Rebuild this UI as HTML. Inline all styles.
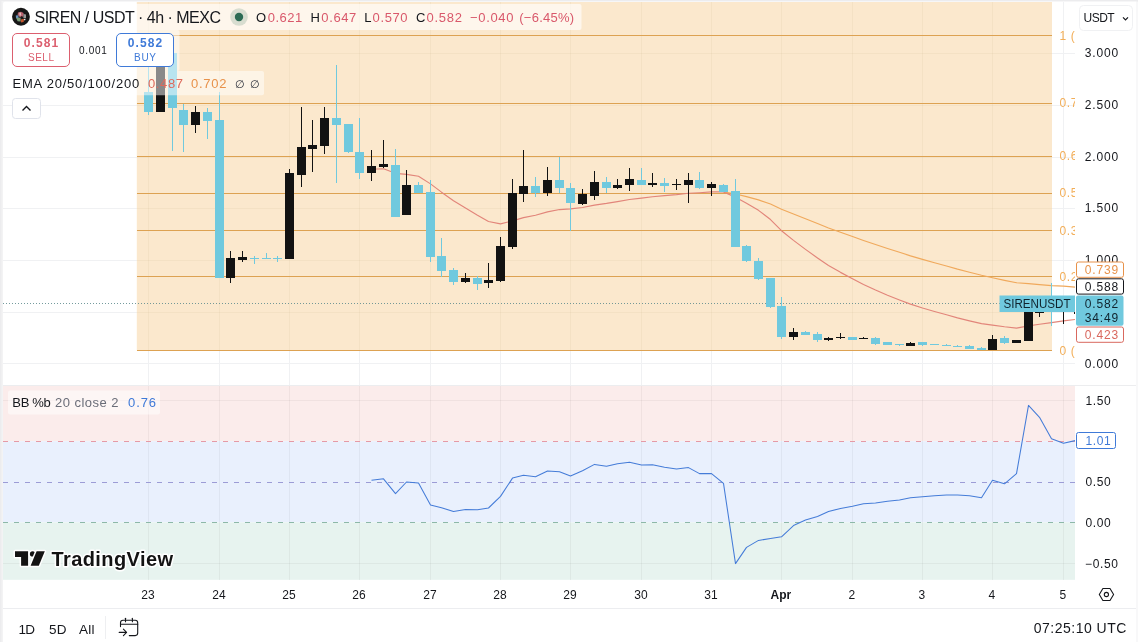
<!DOCTYPE html>
<html lang="en"><head><meta charset="utf-8"><title>SIREN / USDT · 4h · MEXC</title>
<style>html,body{margin:0;padding:0;background:#fff;}body{width:1138px;height:642px;overflow:hidden;}svg{display:block;}text{font-family:"Liberation Sans", sans-serif;}</style>
</head><body>
<svg width="1138" height="642" viewBox="0 0 1138 642">
<defs><clipPath id="mainclip"><rect x="3" y="2" width="1072" height="381"/></clipPath><filter id="blur" x="-20%" y="-20%" width="140%" height="140%"><feGaussianBlur stdDeviation="0.75"/></filter><clipPath id="subclip"><rect x="3" y="385" width="1072" height="195"/></clipPath></defs>
<rect x="0" y="0" width="1138" height="642" fill="#ECECEE"/>
<rect x="1.5" y="1" width="1136" height="641" fill="#F3F3F4"/>
<path d="M3 3.7 Q3 1.7 5 1.7 H1136 V642 H3 Z" fill="#fff"/>
<rect x="1136" y="2" width="2" height="640" fill="#F8F8F9"/>
<rect x="3" y="385" width="1072" height="56.2" fill="#FBECEB"/>
<rect x="3" y="441.2" width="1072" height="81.2" fill="#E9F0FD"/>
<rect x="3" y="522.4" width="1072" height="57.4" fill="#E7F3EF"/>
<g stroke="#F0F1F3" stroke-width="1" shape-rendering="crispEdges">
<line x1="180" y1="53.5" x2="1075" y2="53.5"/>
<line x1="3" y1="105.5" x2="1075" y2="105.5"/>
<line x1="3" y1="157.5" x2="1075" y2="157.5"/>
<line x1="3" y1="208.5" x2="1075" y2="208.5"/>
<line x1="3" y1="260.5" x2="1075" y2="260.5"/>
<line x1="3" y1="312.5" x2="1075" y2="312.5"/>
<line x1="3" y1="363.5" x2="1075" y2="363.5"/>
<line x1="148.5" y1="2" x2="148.5" y2="385"/>
<line x1="219.5" y1="2" x2="219.5" y2="385"/>
<line x1="289.5" y1="2" x2="289.5" y2="385"/>
<line x1="359.5" y1="2" x2="359.5" y2="385"/>
<line x1="430.5" y1="2" x2="430.5" y2="385"/>
<line x1="500.5" y1="2" x2="500.5" y2="385"/>
<line x1="570.5" y1="2" x2="570.5" y2="385"/>
<line x1="641.5" y1="2" x2="641.5" y2="385"/>
<line x1="711.5" y1="2" x2="711.5" y2="385"/>
<line x1="781.5" y1="2" x2="781.5" y2="385"/>
<line x1="852.5" y1="2" x2="852.5" y2="385"/>
<line x1="922.5" y1="2" x2="922.5" y2="385"/>
<line x1="992.5" y1="2" x2="992.5" y2="385"/>
<line x1="1063.5" y1="2" x2="1063.5" y2="385"/>
</g>
<g stroke="#000" stroke-opacity="0.045" stroke-width="1" shape-rendering="crispEdges">
<line x1="148.5" y1="385" x2="148.5" y2="580"/>
<line x1="219.5" y1="385" x2="219.5" y2="580"/>
<line x1="289.5" y1="385" x2="289.5" y2="580"/>
<line x1="359.5" y1="385" x2="359.5" y2="580"/>
<line x1="430.5" y1="385" x2="430.5" y2="580"/>
<line x1="500.5" y1="385" x2="500.5" y2="580"/>
<line x1="570.5" y1="385" x2="570.5" y2="580"/>
<line x1="641.5" y1="385" x2="641.5" y2="580"/>
<line x1="711.5" y1="385" x2="711.5" y2="580"/>
<line x1="781.5" y1="385" x2="781.5" y2="580"/>
<line x1="852.5" y1="385" x2="852.5" y2="580"/>
<line x1="922.5" y1="385" x2="922.5" y2="580"/>
<line x1="992.5" y1="385" x2="992.5" y2="580"/>
<line x1="1063.5" y1="385" x2="1063.5" y2="580"/>
<line x1="3" y1="400.5" x2="1075" y2="400.5"/>
<line x1="3" y1="563.5" x2="1075" y2="563.5"/>
</g>
<g clip-path="url(#mainclip)">
<rect x="136.8" y="2" width="915.2" height="348.5" fill="#FBE8CD"/>
<g stroke="#C9B08C" stroke-opacity="0.13" stroke-width="1" shape-rendering="crispEdges">
<line x1="136.5" y1="53.5" x2="1052" y2="53.5"/>
<line x1="136.5" y1="105.5" x2="1052" y2="105.5"/>
<line x1="136.5" y1="157.5" x2="1052" y2="157.5"/>
<line x1="136.5" y1="208.5" x2="1052" y2="208.5"/>
<line x1="136.5" y1="260.5" x2="1052" y2="260.5"/>
<line x1="136.5" y1="312.5" x2="1052" y2="312.5"/>
<line x1="148.5" y1="2" x2="148.5" y2="350"/>
<line x1="219.5" y1="2" x2="219.5" y2="350"/>
<line x1="289.5" y1="2" x2="289.5" y2="350"/>
<line x1="359.5" y1="2" x2="359.5" y2="350"/>
<line x1="430.5" y1="2" x2="430.5" y2="350"/>
<line x1="500.5" y1="2" x2="500.5" y2="350"/>
<line x1="570.5" y1="2" x2="570.5" y2="350"/>
<line x1="641.5" y1="2" x2="641.5" y2="350"/>
<line x1="711.5" y1="2" x2="711.5" y2="350"/>
<line x1="781.5" y1="2" x2="781.5" y2="350"/>
<line x1="852.5" y1="2" x2="852.5" y2="350"/>
<line x1="922.5" y1="2" x2="922.5" y2="350"/>
<line x1="992.5" y1="2" x2="992.5" y2="350"/>
</g>
<g stroke="#DDA252" stroke-width="1" shape-rendering="crispEdges">
<line x1="136.5" y1="35.5" x2="1052" y2="35.5"/>
<line x1="136.5" y1="103.5" x2="1052" y2="103.5"/>
<line x1="136.5" y1="156.5" x2="1052" y2="156.5"/>
<line x1="136.5" y1="193.5" x2="1052" y2="193.5"/>
<line x1="136.5" y1="230.5" x2="1052" y2="230.5"/>
<line x1="136.5" y1="276.5" x2="1052" y2="276.5"/>
<line x1="136.5" y1="350.5" x2="1052" y2="350.5"/>
</g>
<g fill="#F2AE58" font-size="12" letter-spacing="0.6">
<text x="1059.6" y="39.6">1 (3.042)</text>
<text x="1059.6" y="107.2">0.786 (2.391)</text>
<text x="1059.6" y="160.20000000000002">0.618 (1.880)</text>
<text x="1059.6" y="197.4">0.5 (1.521)</text>
<text x="1059.6" y="234.6">0.382 (1.162)</text>
<text x="1059.6" y="280.59999999999997">0.236 (0.718)</text>
<text x="1059.6" y="354.9">0 (0.000)</text>
</g>
<line x1="3" y1="303.5" x2="1075" y2="303.5" stroke="#5C8A8C" stroke-opacity="0.85" stroke-width="1" stroke-dasharray="1 2" shape-rendering="crispEdges"/>
<rect x="1074" y="312" width="1" height="2" fill="#121212"/>
<polyline fill="none" stroke="#F0A95C" stroke-width="1.15" stroke-linejoin="round" points="723.5,191.9 735.5,194.05 746.5,196.66 758.5,199.87 770.5,204.07 781.5,209.27 793.5,214.09 805.5,218.82 817.5,223.56 828.5,228.05 840.5,232.31 852.5,236.52 863.5,240.5 875.5,244.56 887.5,248.5 899.5,252.28 910.5,255.83 922.5,259.33 934.5,262.69 946.5,265.96 957.5,269.13 969.5,272.26 981.5,275.3 992.5,277.8 1004.5,280.37 1016.5,282.72 1028.5,283.59 1039.5,284.63 1051.5,285.62 1063.5,286.18 1075.5,287.1"/>
<polyline fill="none" stroke="#E2857A" stroke-width="1.15" stroke-linejoin="round" points="371.5,169.28 383.5,168.78 395.5,173.33 406.5,174.44 418.5,176.2 430.5,183.88 441.5,192.16 453.5,200.71 465.5,208.07 477.5,215.29 488.5,221.47 500.5,223.83 512.5,220.91 523.5,217.61 535.5,215.25 547.5,211.88 559.5,209.56 570.5,208.89 582.5,207.5 594.5,205.08 606.5,203.44 617.5,201.68 629.5,199.55 641.5,198.16 652.5,196.71 664.5,195.67 676.5,194.6 688.5,193.23 699.5,192.72 711.5,191.9 723.5,191.91 735.5,197.13 746.5,203.17 758.5,210.36 770.5,219.56 781.5,230.71 793.5,240.37 805.5,249.36 817.5,257.96 828.5,265.59 840.5,272.37 852.5,278.78 863.5,284.41 875.5,290.08 887.5,295.31 899.5,300.05 910.5,304.12 922.5,308.01 934.5,311.53 946.5,314.82 957.5,317.88 969.5,320.83 981.5,323.6 992.5,325.07 1004.5,326.8 1016.5,328.07 1028.5,325.9 1039.5,324.3 1051.5,322.6 1063.5,320.9 1075.5,319.4"/>
<g shape-rendering="crispEdges">
<line x1="148.5" y1="60" x2="148.5" y2="115" stroke="#70C9DE" stroke-width="1"/>
<rect x="144.0" y="92" width="9" height="20" fill="#70C9DE"/>
<line x1="160.5" y1="40" x2="160.5" y2="112" stroke="#121212" stroke-width="1"/>
<rect x="156.0" y="40" width="9" height="72" fill="#121212"/>
<line x1="172.5" y1="36" x2="172.5" y2="151" stroke="#70C9DE" stroke-width="1"/>
<rect x="168.0" y="53" width="9" height="55" fill="#70C9DE"/>
<line x1="183.5" y1="104" x2="183.5" y2="152" stroke="#70C9DE" stroke-width="1"/>
<rect x="179.0" y="110" width="9" height="15" fill="#70C9DE"/>
<line x1="195.5" y1="106" x2="195.5" y2="133" stroke="#121212" stroke-width="1"/>
<rect x="191.0" y="112" width="9" height="13" fill="#121212"/>
<line x1="207.5" y1="108" x2="207.5" y2="139" stroke="#70C9DE" stroke-width="1"/>
<rect x="203.0" y="112" width="9" height="9" fill="#70C9DE"/>
<line x1="219.5" y1="92" x2="219.5" y2="278" stroke="#70C9DE" stroke-width="1"/>
<rect x="215.0" y="120" width="9" height="158" fill="#70C9DE"/>
<line x1="230.5" y1="251" x2="230.5" y2="283" stroke="#121212" stroke-width="1"/>
<rect x="226.0" y="258" width="9" height="20" fill="#121212"/>
<line x1="242.5" y1="251" x2="242.5" y2="262" stroke="#121212" stroke-width="1"/>
<rect x="238.0" y="257" width="9" height="3" fill="#121212"/>
<line x1="254.5" y1="256" x2="254.5" y2="264" stroke="#70C9DE" stroke-width="1"/>
<rect x="250.0" y="258" width="9" height="1" fill="#70C9DE"/>
<line x1="266.5" y1="253" x2="266.5" y2="259" stroke="#70C9DE" stroke-width="1"/>
<rect x="262.0" y="258" width="9" height="1" fill="#70C9DE"/>
<line x1="277.5" y1="256" x2="277.5" y2="262" stroke="#70C9DE" stroke-width="1"/>
<rect x="273.0" y="258" width="9" height="1" fill="#70C9DE"/>
<line x1="289.5" y1="169" x2="289.5" y2="259" stroke="#121212" stroke-width="1"/>
<rect x="285.0" y="173" width="9" height="86" fill="#121212"/>
<line x1="301.5" y1="107" x2="301.5" y2="187" stroke="#121212" stroke-width="1"/>
<rect x="297.0" y="147" width="9" height="28" fill="#121212"/>
<line x1="312.5" y1="120" x2="312.5" y2="172" stroke="#121212" stroke-width="1"/>
<rect x="308.0" y="145" width="9" height="4" fill="#121212"/>
<line x1="324.5" y1="107" x2="324.5" y2="154" stroke="#121212" stroke-width="1"/>
<rect x="320.0" y="118" width="9" height="28" fill="#121212"/>
<line x1="336.5" y1="65" x2="336.5" y2="183" stroke="#70C9DE" stroke-width="1"/>
<rect x="332.0" y="118" width="9" height="7" fill="#70C9DE"/>
<line x1="348.5" y1="124" x2="348.5" y2="153" stroke="#70C9DE" stroke-width="1"/>
<rect x="344.0" y="124" width="9" height="28" fill="#70C9DE"/>
<line x1="359.5" y1="118" x2="359.5" y2="179" stroke="#70C9DE" stroke-width="1"/>
<rect x="355.0" y="152" width="9" height="21" fill="#70C9DE"/>
<line x1="371.5" y1="150" x2="371.5" y2="181" stroke="#121212" stroke-width="1"/>
<rect x="367.0" y="166" width="9" height="7" fill="#121212"/>
<line x1="383.5" y1="140" x2="383.5" y2="168" stroke="#121212" stroke-width="1"/>
<rect x="379.0" y="164" width="9" height="3" fill="#121212"/>
<line x1="395.5" y1="149" x2="395.5" y2="217" stroke="#70C9DE" stroke-width="1"/>
<rect x="391.0" y="165" width="9" height="52" fill="#70C9DE"/>
<line x1="406.5" y1="170" x2="406.5" y2="215" stroke="#121212" stroke-width="1"/>
<rect x="402.0" y="185" width="9" height="30" fill="#121212"/>
<line x1="418.5" y1="182" x2="418.5" y2="193" stroke="#70C9DE" stroke-width="1"/>
<rect x="414.0" y="185" width="9" height="8" fill="#70C9DE"/>
<line x1="430.5" y1="180" x2="430.5" y2="262" stroke="#70C9DE" stroke-width="1"/>
<rect x="426.0" y="192" width="9" height="65" fill="#70C9DE"/>
<line x1="441.5" y1="238" x2="441.5" y2="277" stroke="#70C9DE" stroke-width="1"/>
<rect x="437.0" y="256" width="9" height="15" fill="#70C9DE"/>
<line x1="453.5" y1="268" x2="453.5" y2="285" stroke="#70C9DE" stroke-width="1"/>
<rect x="449.0" y="270" width="9" height="12" fill="#70C9DE"/>
<line x1="465.5" y1="273" x2="465.5" y2="283" stroke="#121212" stroke-width="1"/>
<rect x="461.0" y="278" width="9" height="4" fill="#121212"/>
<line x1="477.5" y1="276" x2="477.5" y2="290" stroke="#70C9DE" stroke-width="1"/>
<rect x="473.0" y="278" width="9" height="6" fill="#70C9DE"/>
<line x1="488.5" y1="263" x2="488.5" y2="288" stroke="#121212" stroke-width="1"/>
<rect x="484.0" y="280" width="9" height="3" fill="#121212"/>
<line x1="500.5" y1="237" x2="500.5" y2="282" stroke="#121212" stroke-width="1"/>
<rect x="496.0" y="246" width="9" height="35" fill="#121212"/>
<line x1="512.5" y1="179" x2="512.5" y2="249" stroke="#121212" stroke-width="1"/>
<rect x="508.0" y="193" width="9" height="54" fill="#121212"/>
<line x1="523.5" y1="150" x2="523.5" y2="202" stroke="#121212" stroke-width="1"/>
<rect x="519.0" y="186" width="9" height="8" fill="#121212"/>
<line x1="535.5" y1="177" x2="535.5" y2="197" stroke="#70C9DE" stroke-width="1"/>
<rect x="531.0" y="186" width="9" height="7" fill="#70C9DE"/>
<line x1="547.5" y1="167" x2="547.5" y2="196" stroke="#121212" stroke-width="1"/>
<rect x="543.0" y="180" width="9" height="13" fill="#121212"/>
<line x1="559.5" y1="157" x2="559.5" y2="193" stroke="#70C9DE" stroke-width="1"/>
<rect x="555.0" y="180" width="9" height="8" fill="#70C9DE"/>
<line x1="570.5" y1="183" x2="570.5" y2="231" stroke="#70C9DE" stroke-width="1"/>
<rect x="566.0" y="188" width="9" height="15" fill="#70C9DE"/>
<line x1="582.5" y1="189" x2="582.5" y2="205" stroke="#121212" stroke-width="1"/>
<rect x="578.0" y="194" width="9" height="10" fill="#121212"/>
<line x1="594.5" y1="171" x2="594.5" y2="200" stroke="#121212" stroke-width="1"/>
<rect x="590.0" y="182" width="9" height="14" fill="#121212"/>
<line x1="606.5" y1="177" x2="606.5" y2="193" stroke="#70C9DE" stroke-width="1"/>
<rect x="602.0" y="182" width="9" height="6" fill="#70C9DE"/>
<line x1="617.5" y1="179" x2="617.5" y2="189" stroke="#121212" stroke-width="1"/>
<rect x="613.0" y="185" width="9" height="3" fill="#121212"/>
<line x1="629.5" y1="168" x2="629.5" y2="191" stroke="#121212" stroke-width="1"/>
<rect x="625.0" y="179" width="9" height="6" fill="#121212"/>
<line x1="641.5" y1="168" x2="641.5" y2="185" stroke="#70C9DE" stroke-width="1"/>
<rect x="637.0" y="180" width="9" height="5" fill="#70C9DE"/>
<line x1="652.5" y1="173" x2="652.5" y2="187" stroke="#121212" stroke-width="1"/>
<rect x="648.0" y="183" width="9" height="2" fill="#121212"/>
<line x1="664.5" y1="178" x2="664.5" y2="192" stroke="#70C9DE" stroke-width="1"/>
<rect x="660.0" y="183" width="9" height="3" fill="#70C9DE"/>
<line x1="676.5" y1="179" x2="676.5" y2="190" stroke="#121212" stroke-width="1"/>
<rect x="672.0" y="184" width="9" height="1" fill="#121212"/>
<line x1="688.5" y1="173" x2="688.5" y2="203" stroke="#121212" stroke-width="1"/>
<rect x="684.0" y="180" width="9" height="5" fill="#121212"/>
<line x1="699.5" y1="172" x2="699.5" y2="189" stroke="#70C9DE" stroke-width="1"/>
<rect x="695.0" y="180" width="9" height="8" fill="#70C9DE"/>
<line x1="711.5" y1="182" x2="711.5" y2="196" stroke="#121212" stroke-width="1"/>
<rect x="707.0" y="184" width="9" height="4" fill="#121212"/>
<line x1="723.5" y1="184" x2="723.5" y2="192" stroke="#70C9DE" stroke-width="1"/>
<rect x="719.0" y="185" width="9" height="7" fill="#70C9DE"/>
<line x1="735.5" y1="179" x2="735.5" y2="247" stroke="#70C9DE" stroke-width="1"/>
<rect x="731.0" y="191" width="9" height="56" fill="#70C9DE"/>
<line x1="746.5" y1="245" x2="746.5" y2="262" stroke="#70C9DE" stroke-width="1"/>
<rect x="742.0" y="246" width="9" height="15" fill="#70C9DE"/>
<line x1="758.5" y1="258" x2="758.5" y2="280" stroke="#70C9DE" stroke-width="1"/>
<rect x="754.0" y="261" width="9" height="18" fill="#70C9DE"/>
<line x1="770.5" y1="278" x2="770.5" y2="308" stroke="#70C9DE" stroke-width="1"/>
<rect x="766.0" y="278" width="9" height="29" fill="#70C9DE"/>
<line x1="781.5" y1="297" x2="781.5" y2="339" stroke="#70C9DE" stroke-width="1"/>
<rect x="777.0" y="306" width="9" height="31" fill="#70C9DE"/>
<line x1="793.5" y1="328" x2="793.5" y2="340" stroke="#121212" stroke-width="1"/>
<rect x="789.0" y="332" width="9" height="5" fill="#121212"/>
<line x1="805.5" y1="331" x2="805.5" y2="335" stroke="#70C9DE" stroke-width="1"/>
<rect x="801.0" y="332" width="9" height="3" fill="#70C9DE"/>
<line x1="817.5" y1="332" x2="817.5" y2="342" stroke="#70C9DE" stroke-width="1"/>
<rect x="813.0" y="334" width="9" height="6" fill="#70C9DE"/>
<line x1="828.5" y1="337" x2="828.5" y2="341" stroke="#121212" stroke-width="1"/>
<rect x="824.0" y="338" width="9" height="2" fill="#121212"/>
<line x1="840.5" y1="333" x2="840.5" y2="339" stroke="#121212" stroke-width="1"/>
<rect x="836.0" y="337" width="9" height="1" fill="#121212"/>
<line x1="852.5" y1="337" x2="852.5" y2="340" stroke="#70C9DE" stroke-width="1"/>
<rect x="848.0" y="337" width="9" height="3" fill="#70C9DE"/>
<line x1="863.5" y1="337" x2="863.5" y2="339" stroke="#121212" stroke-width="1"/>
<rect x="859.0" y="338" width="9" height="1" fill="#121212"/>
<line x1="875.5" y1="337" x2="875.5" y2="345" stroke="#70C9DE" stroke-width="1"/>
<rect x="871.0" y="338" width="9" height="6" fill="#70C9DE"/>
<line x1="887.5" y1="342" x2="887.5" y2="345" stroke="#70C9DE" stroke-width="1"/>
<rect x="883.0" y="342" width="9" height="3" fill="#70C9DE"/>
<line x1="899.5" y1="344" x2="899.5" y2="346" stroke="#70C9DE" stroke-width="1"/>
<rect x="895.0" y="344" width="9" height="1" fill="#70C9DE"/>
<line x1="910.5" y1="342" x2="910.5" y2="346" stroke="#121212" stroke-width="1"/>
<rect x="906.0" y="343" width="9" height="3" fill="#121212"/>
<line x1="922.5" y1="342" x2="922.5" y2="346" stroke="#70C9DE" stroke-width="1"/>
<rect x="918.0" y="342" width="9" height="3" fill="#70C9DE"/>
<line x1="934.5" y1="344" x2="934.5" y2="345" stroke="#70C9DE" stroke-width="1"/>
<rect x="930.0" y="344" width="9" height="1" fill="#70C9DE"/>
<line x1="946.5" y1="344" x2="946.5" y2="346" stroke="#70C9DE" stroke-width="1"/>
<rect x="942.0" y="345" width="9" height="1" fill="#70C9DE"/>
<line x1="957.5" y1="345" x2="957.5" y2="347" stroke="#70C9DE" stroke-width="1"/>
<rect x="953.0" y="346" width="9" height="1" fill="#70C9DE"/>
<line x1="969.5" y1="345" x2="969.5" y2="349" stroke="#70C9DE" stroke-width="1"/>
<rect x="965.0" y="346" width="9" height="3" fill="#70C9DE"/>
<line x1="981.5" y1="347" x2="981.5" y2="350" stroke="#70C9DE" stroke-width="1"/>
<rect x="977.0" y="348" width="9" height="2" fill="#70C9DE"/>
<line x1="992.5" y1="335" x2="992.5" y2="350" stroke="#121212" stroke-width="1"/>
<rect x="988.0" y="339" width="9" height="11" fill="#121212"/>
<line x1="1004.5" y1="336" x2="1004.5" y2="344" stroke="#70C9DE" stroke-width="1"/>
<rect x="1000.0" y="338" width="9" height="5" fill="#70C9DE"/>
<line x1="1016.5" y1="340" x2="1016.5" y2="343" stroke="#121212" stroke-width="1"/>
<rect x="1012.0" y="340" width="9" height="3" fill="#121212"/>
<line x1="1028.5" y1="300" x2="1028.5" y2="341" stroke="#121212" stroke-width="1"/>
<rect x="1024.0" y="305" width="9" height="36" fill="#121212"/>
<line x1="1039.5" y1="305" x2="1039.5" y2="317" stroke="#121212" stroke-width="1"/>
<rect x="1035.0" y="310" width="9" height="3" fill="#121212"/>
<line x1="1051.5" y1="283" x2="1051.5" y2="326" stroke="#70C9DE" stroke-width="1"/>
<rect x="1047.0" y="300" width="9" height="10" fill="#70C9DE"/>
<line x1="1063.5" y1="300" x2="1063.5" y2="324" stroke="#121212" stroke-width="1"/>
<rect x="1059.0" y="300" width="9" height="12" fill="#121212"/>
</g>
<rect x="999.5" y="295.5" width="75.5" height="16.5" fill="#70C9DE"/>
<text x="1003.5" y="308" font-size="12" fill="#10242E" textLength="67" lengthAdjust="spacingAndGlyphs">SIRENUSDT</text>
</g>
<g clip-path="url(#subclip)">
<g stroke-width="1" stroke-dasharray="5 6" shape-rendering="crispEdges">
<line x1="3" y1="441.5" x2="1075" y2="441.5" stroke="#E59AA6"/>
<line x1="3" y1="482.5" x2="1075" y2="482.5" stroke="#9C9CD6"/>
<line x1="3" y1="522.5" x2="1075" y2="522.5" stroke="#8DB8A8"/>
</g>
<polyline fill="none" stroke="#457CD8" stroke-width="1.05" stroke-linejoin="round" points="371.5,480.3 383.5,478.8 395.5,493.6 406.5,482 418.5,483 430.5,504.9 441.5,507.7 453.5,511.5 465.5,509.4 477.5,509.8 488.5,508 500.5,496.4 512.5,478.1 523.5,475.3 535.5,476.7 547.5,471.1 559.5,471.8 570.5,476 582.5,470.8 594.5,464.4 606.5,466.2 617.5,463.7 629.5,462.3 641.5,465.1 652.5,464.8 664.5,467.2 676.5,469 688.5,467.6 699.5,473.6 711.5,473.6 723.5,483.4 735.5,563.6 746.5,547.4 758.5,540.4 770.5,538.6 781.5,536.8 793.5,525.6 805.5,520 817.5,516.5 828.5,511.5 840.5,508.4 852.5,506.3 863.5,503.8 875.5,503.1 887.5,501.3 899.5,499.9 910.5,497.8 922.5,496.8 934.5,495.7 946.5,495 957.5,495 969.5,495.7 981.5,497.8 992.5,480.3 1004.5,483.8 1016.5,473.6 1028.5,405.4 1039.5,417.3 1051.5,438.8 1063.5,443.3 1075.5,440.5"/>
</g>
<g fill="#fff" fill-opacity="0.5">
<rect x="8" y="4" width="573.5" height="26" rx="2" fill-opacity="0.62"/>
<rect x="8" y="30" width="171.5" height="41" rx="2"/>
<rect x="8" y="71" width="256" height="24.3" rx="2"/>
<rect x="8" y="390.5" width="152" height="24" rx="2"/>
</g>
<circle cx="20.95" cy="16.75" r="8.9" fill="#161616"/>
<g filter="url(#blur)"><path d="M18 12.6 L21 11.7 L23.6 13 L23.2 16.6 L20 17.2 L17.6 15Z" fill="#B8626E"/><path d="M19.2 12.8 L20.8 12.4 L21.2 15.6 L19.6 15.8Z" fill="#E3BDBD"/><path d="M23.4 14 L26 14.6 L26 18.2 L23.4 18Z" fill="#989898"/><path d="M15.8 15.6 L18.4 15.2 L18.6 18 L16 18.2Z" fill="#6A94BE"/><path d="M16.2 18 L20.6 17.6 L20.6 21.6 L17.6 21.2Z" fill="#7C9C78"/><path d="M20.6 19.4 L24 18.8 L23.6 22 L21 22.4Z" fill="#C4542E"/><circle cx="24.7" cy="19.6" r="0.8" fill="#EEE"/><path d="M21 16 L22.8 17 L22 19 L20.6 18Z" fill="#1c1c1c"/></g>
<text x="34.5" y="23" font-size="16" fill="#15171C" textLength="186.5" lengthAdjust="spacing">SIREN / USDT · 4h · MEXC</text>
<circle cx="239" cy="17" r="8.8" fill="#2A6E55" fill-opacity="0.18"/><circle cx="239" cy="17" r="4.2" fill="#2C6B54"/>
<g font-size="13">
<text x="256" y="22" fill="#15171C">O</text>
<text x="267.7" y="22" fill="#D9586B" textLength="34.6" lengthAdjust="spacing">0.621</text>
<text x="310.5" y="22" fill="#15171C">H</text>
<text x="321.3" y="22" fill="#D9586B" textLength="35" lengthAdjust="spacing">0.647</text>
<text x="364.2" y="22" fill="#15171C">L</text>
<text x="372.6" y="22" fill="#D9586B" textLength="35" lengthAdjust="spacing">0.570</text>
<text x="416" y="22" fill="#15171C">C</text>
<text x="426.5" y="22" fill="#D9586B" textLength="35.5" lengthAdjust="spacing">0.582</text>
<text x="470" y="22" fill="#D9586B" textLength="43.5" lengthAdjust="spacing">−0.040</text>
<text x="519.2" y="22" fill="#D9586B" textLength="55" lengthAdjust="spacing">(−6.45%)</text>
</g>
<rect x="12.5" y="33.5" width="57" height="33" rx="4.5" fill="#fff" stroke="#DC5F6F" stroke-width="1"/>
<text x="41" y="47.1" font-size="12" font-weight="bold" fill="#DC5F6F" text-anchor="middle" textLength="34.3" lengthAdjust="spacing">0.581</text>
<text x="41" y="60.8" font-size="10" fill="#DC5F6F" text-anchor="middle" textLength="26" lengthAdjust="spacing">SELL</text>
<text x="79" y="53.9" font-size="10" fill="#15171C" textLength="27.8" lengthAdjust="spacing">0.001</text>
<rect x="116.5" y="33.5" width="57" height="33" rx="4.5" fill="#fff" stroke="#3F7AD8" stroke-width="1"/>
<text x="145" y="47.1" font-size="12" font-weight="bold" fill="#3F7AD8" text-anchor="middle" textLength="34.3" lengthAdjust="spacing">0.582</text>
<text x="145" y="60.8" font-size="10" fill="#3F7AD8" text-anchor="middle" textLength="22" lengthAdjust="spacing">BUY</text>
<g font-size="13">
<text x="12.5" y="88" fill="#15171C" textLength="126.7" lengthAdjust="spacing">EMA 20/50/100/200</text>
<text x="148" y="88" fill="#DD6A5C" textLength="35" lengthAdjust="spacing">0.487</text>
<text x="191" y="88" fill="#E8924A" textLength="35.5" lengthAdjust="spacing">0.702</text>
<text x="234.7" y="87.6" font-size="10.5" fill="#2A2E39">∅</text><text x="249.8" y="87.6" font-size="10.5" fill="#2A2E39">∅</text>
</g>
<rect x="12.5" y="98.5" width="28" height="20" rx="3" fill="#fff" stroke="#E0E3EB"/>
<path d="M22.5 110.5 L26.5 106.5 L30.5 110.5" fill="none" stroke="#15171C" stroke-width="1.4"/>
<g font-size="13">
<text x="12.3" y="407" fill="#15171C" textLength="38.5" lengthAdjust="spacing">BB %b</text>
<text x="55" y="407" fill="#6A6D78" textLength="63.5" lengthAdjust="spacing">20 close 2</text>
<text x="128" y="407" fill="#3F7AD8" textLength="28" lengthAdjust="spacing">0.76</text>
</g>
<g stroke="#fff" stroke-width="3" stroke-linejoin="round" fill="#131313" paint-order="stroke">
<path d="M15 551.2 H28.1 V565.8 H21.1 V557 H15 Z"/>
<circle cx="32.6" cy="553.9" r="2.7"/>
<path d="M36.6 551.2 H44.8 L38.8 565.8 H30.6 Z"/>
<text x="51.5" y="565.8" font-size="20" font-weight="bold" stroke-width="3" textLength="121.5" lengthAdjust="spacing">TradingView</text>
</g>
<rect x="1075" y="2" width="61" height="606" fill="#fff"/>
<g font-size="12" fill="#15171C">
<text x="1084.7" y="56.599999999999994" fill="#15171C" textLength="33.5" lengthAdjust="spacing">3.000</text>
<text x="1084.7" y="108.5" fill="#15171C" textLength="33.5" lengthAdjust="spacing">2.500</text>
<text x="1084.7" y="161.3" fill="#15171C" textLength="33.5" lengthAdjust="spacing">2.000</text>
<text x="1084.7" y="212.10000000000002" fill="#15171C" textLength="33.5" lengthAdjust="spacing">1.500</text>
<text x="1084.7" y="264.0" fill="#15171C" textLength="33.5" lengthAdjust="spacing">1.000</text>
<text x="1084.7" y="367.7" fill="#15171C" textLength="33.5" lengthAdjust="spacing">0.000</text>
<text x="1085.4" y="404.8" fill="#15171C" textLength="25.3" lengthAdjust="spacing">1.50</text>
<text x="1085.4" y="486.3" fill="#15171C" textLength="25.3" lengthAdjust="spacing">0.50</text>
<text x="1085.4" y="526.8" fill="#15171C" textLength="25.3" lengthAdjust="spacing">0.00</text>
<text x="1085" y="567.5999999999999" fill="#15171C" textLength="33" lengthAdjust="spacing">−0.50</text>
</g>
<line x1="3" y1="385.5" x2="1136" y2="385.5" stroke="#ECEDEF" shape-rendering="crispEdges"/>
<rect x="1079.5" y="5.5" width="53" height="25" rx="4" fill="#fff" stroke="#F0F1F3"/>
<text x="1083.6" y="21.7" fill="#15171C" textLength="31" lengthAdjust="spacing" font-size="12">USDT</text>
<path d="M1123 17.3 L1125.5 19.8 L1128 17.3" fill="none" stroke="#15171C" stroke-width="1.2"/>
<rect x="1076.5" y="262.0" width="47" height="15.3" rx="2" fill="#fff" stroke="#E8924A"/>
<text x="1084.7" y="274" fill="#E8924A" textLength="33.5" lengthAdjust="spacing" font-size="12">0.739</text>
<rect x="1076.5" y="278.8" width="47" height="15.3" rx="2" fill="#fff" stroke="#15171C"/>
<text x="1084.7" y="290.8" fill="#15171C" textLength="33.5" lengthAdjust="spacing" font-size="12">0.588</text>
<rect x="1076" y="295.4" width="47.5" height="30.4" rx="2" fill="#70C9DE"/>
<text x="1084.7" y="307.8" fill="#10242E" textLength="33.5" lengthAdjust="spacing" font-size="12">0.582</text>
<text x="1084.7" y="321.8" fill="#10242E" textLength="33.5" lengthAdjust="spacing" font-size="12">34:49</text>
<rect x="1076.5" y="327.0" width="47" height="15.3" rx="2" fill="#fff" stroke="#D9685E"/>
<text x="1084.7" y="339" fill="#D9685E" textLength="33.5" lengthAdjust="spacing" font-size="12">0.423</text>
<rect x="1076.5" y="432.5" width="39" height="16" rx="2" fill="#fff" stroke="#3F7AD8"/>
<text x="1085.4" y="444.8" fill="#3F7AD8" textLength="25.3" lengthAdjust="spacing" font-size="12">1.01</text>
<rect x="3" y="580" width="1133" height="62" fill="#fff"/>
<line x1="3" y1="608.5" x2="1136" y2="608.5" stroke="#ECEDF0" stroke-width="1" shape-rendering="crispEdges"/>
<g font-size="12" fill="#15171C" text-anchor="middle">
<text x="147.9" y="598.7">23</text>
<text x="218.9" y="598.7">24</text>
<text x="288.9" y="598.7">25</text>
<text x="358.9" y="598.7">26</text>
<text x="429.9" y="598.7">27</text>
<text x="499.9" y="598.7">28</text>
<text x="569.9" y="598.7">29</text>
<text x="640.9" y="598.7">30</text>
<text x="710.9" y="598.7">31</text>
<text x="780.9" y="598.7" font-weight="bold">Apr</text>
<text x="851.9" y="598.7">2</text>
<text x="921.9" y="598.7">3</text>
<text x="991.9" y="598.7">4</text>
<text x="1062.9" y="598.7">5</text>
</g>
<path d="M1099.3 594.5 L1102.9 588.5 H1110 L1113.6 594.5 L1110 600.5 H1102.9 Z" fill="none" stroke="#15171C" stroke-width="1.1" stroke-linejoin="round"/><circle cx="1106.4" cy="594.5" r="2.1" fill="none" stroke="#15171C" stroke-width="1.1"/>
<g font-size="13.5" fill="#15171C">
<text x="18.5" y="634" fill="#15171C" textLength="16.6" lengthAdjust="spacing">1D</text>
<text x="48.9" y="634" fill="#15171C" textLength="17.5" lengthAdjust="spacing">5D</text>
<text x="79" y="634" fill="#15171C" textLength="15.6" lengthAdjust="spacing">All</text>
<text x="1033.8" y="632.6" fill="#15171C" textLength="92.6" lengthAdjust="spacing" font-size="14">07:25:10 UTC</text>
</g>
<line x1="105.5" y1="616" x2="105.5" y2="639" stroke="#EEEFF1" shape-rendering="crispEdges"/>
<g fill="none" stroke="#15171C" stroke-width="1.1" stroke-linecap="round" stroke-linejoin="round"><path d="M120.5 626.6 V622.8 Q120.5 620.3 123 620.3 H135.2 Q137.7 620.3 137.7 622.8 V633.1 Q137.7 635.6 135.2 635.6 H129.3"/><path d="M120.5 624.2 H137.7"/><path d="M125.5 618.2 V621.7"/><path d="M132.4 618.2 V621.7"/><path d="M119.2 632.4 H126.6 M123.4 629.2 L126.6 632.4 L123.4 635.6"/></g>
</svg></body></html>
